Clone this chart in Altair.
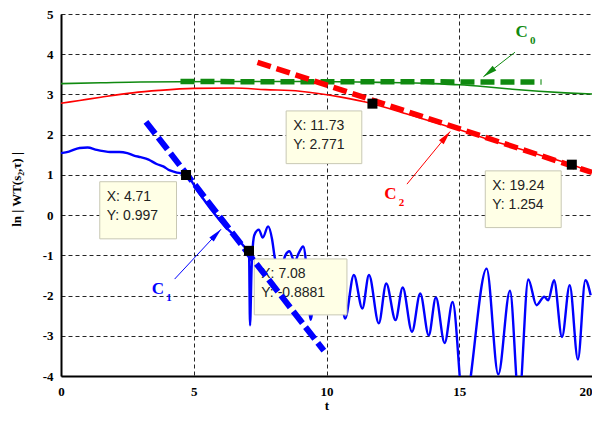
import math
import altair as alt
import pandas as pd

# ---------------- data ----------------
green_t = [0, 1.5, 3, 6, 9, 12, 14, 15, 16, 17, 18, 19, 20]
green_v = [3.27, 3.29, 3.31, 3.32, 3.32, 3.30, 3.27, 3.24, 3.19, 3.13, 3.08, 3.04, 3.01]

red_t = [0, 0.7, 1.5, 2.7, 3.7, 5.0, 6.5, 7.7, 9.0, 10.5, 11.73, 13, 14, 15, 16, 17, 18, 19.24, 20]
red_v = [2.78, 2.85, 2.93, 3.04, 3.10, 3.15, 3.16, 3.12, 3.08, 2.94, 2.771, 2.52, 2.32, 2.12, 1.90, 1.70, 1.50, 1.254, 1.07]

blue_t = [0.0, 0.3, 0.7, 1.0, 1.35, 1.6, 1.85, 2.2, 2.5, 2.75, 3.0, 3.3, 3.6, 3.85, 4.1, 4.3,
          4.71, 5.2, 5.7, 6.2, 6.6, 7.0, 7.08, 7.12, 7.18, 7.28, 7.45, 7.6, 7.8, 7.95, 8.05,
          8.25, 8.45, 8.6, 8.8, 8.95, 9.12, 9.25, 9.4, 9.6, 9.9, 10.2, 10.45, 10.7, 11.03,
          11.35, 11.6, 11.97, 12.25, 12.6, 12.87, 13.22, 13.53, 13.85, 14.12, 14.45, 14.75,
          15.17, 16.03, 16.47, 16.91, 17.25, 17.6, 17.91, 18.2, 18.35, 18.57, 18.87, 19.16,
          19.47, 19.75, 19.95]
blue_v = [1.54, 1.58, 1.67, 1.68, 1.62, 1.59, 1.57, 1.57, 1.54, 1.48, 1.44, 1.38, 1.27, 1.21, 1.11, 1.07,
          0.997, 0.55, 0.10, -0.30, -0.55, -0.85, -0.888, -2.74, -1.30, -0.50, -0.36, -0.56, -0.28, -0.60, -1.05,
          -1.40, -1.00, -0.90, -1.15, -0.95, -0.78, -1.30, -2.60, -1.60, -1.30, -1.90, -1.50, -2.57, -1.49,
          -2.32, -1.49, -2.69, -1.70, -2.61, -1.80, -2.90, -1.95, -2.99, -2.05, -3.18, -2.16,
          -4.80, -1.33, -3.96, -1.88, -4.60, -1.60, -2.24, -2.03, -2.12, -1.62, -3.03, -1.74,
          -3.59, -1.62, -1.99]

# fitted (dashed) lines: endpoints
c0_t = [4.5, 18.1]
c0_v = [3.32, 3.31]
c2_t = [7.4, 20.0]
c2_v = [3.80, 1.06]
c1_t = [3.2, 9.9]
c1_v = [2.32, -3.37]

# data tips
tip_t = [4.71, 7.08, 11.73, 19.24]
tip_v = [0.997, -0.8881, 2.771, 1.254]
tip_text = ["X: 4.71\nY: 0.997", "X: 7.08\nY: -0.8881", "X: 11.73\nY: 2.771", "X: 19.24\nY: 1.254"]
box_t1 = [1.46, 7.28, 8.48, 15.98]
box_t2 = [4.35, 10.77, 11.33, 18.84]
box_v1 = [0.83, -1.09, 2.59, 1.10]
box_v2 = [-0.59, -2.48, 1.28, -0.31]

# labels and arrows
lab_name = ["0", "2", "1"]
lab_color = ["#108a10", "#ff0000", "#0000ff"]
lab_t = [17.35, 12.41, 3.65]
lab_v = [4.55, 0.52, -1.84]
arr_t1 = [17.10, 13.03, 4.28]
arr_v1 = [4.05, 0.77, -1.59]
arr_t2 = [15.91, 14.66, 6.03]
arr_v2 = [3.44, 2.08, -0.35]

# ---------------- chart ----------------
W, H = 531, 362
XD, YD = [0, 20], [-4, 5]
SX = W / (XD[1] - XD[0])
SY = H / (YD[1] - YD[0])

xs = alt.Scale(domain=XD, nice=False, zero=False)
ys = alt.Scale(domain=YD, nice=False, zero=False)

xaxis = alt.Axis(values=[0, 5, 10, 15, 20], title="t", titleY=29, titleBaseline="middle",
                 labelPadding=9, labelExpr="datum.value",
                 labelAlign={"expr": "datum.value == 20 ? 'right' : 'center'"})
yaxis = alt.Axis(values=list(range(-4, 6)), title="ln | WT(s\u2082,\u03c4) |",
                 titleX=-45, titleY=175, titleAngle=-90, titleAlign="center",
                 titleBaseline="middle", labelPadding=8, labelExpr="datum.value")

X = lambda f="t": alt.X(f + ":Q", scale=xs, axis=xaxis)
Y = lambda f="v": alt.Y(f + ":Q", scale=ys, axis=yaxis)

green_df = pd.DataFrame({"t": green_t, "v": green_v})
red_df = pd.DataFrame({"t": red_t, "v": red_v})
blue_df = pd.DataFrame({"t": blue_t, "v": blue_v})
c0_df = pd.DataFrame({"t": c0_t, "v": c0_v})
c2_df = pd.DataFrame({"t": c2_t, "v": c2_v})
c1_df = pd.DataFrame({"t": c1_t, "v": c1_v})
tips_df = pd.DataFrame({"t": tip_t, "v": tip_v})
box_df = pd.DataFrame({"t": box_t1, "t2": box_t2, "v": box_v1, "v2": box_v2, "txt": tip_text})

# arrows: compute head placement (tip at end point)
heads = []
L = 14.0
for i in range(3):
    dx = (arr_t2[i] - arr_t1[i]) * SX
    dy = -(arr_v2[i] - arr_v1[i]) * SY
    n = math.hypot(dx, dy)
    ux, uy = dx / n, dy / n
    ang = math.degrees(math.atan2(dx, -dy)) % 360
    heads.append({"t": arr_t2[i] - (L / 2) * ux / SX,
                  "v": arr_v2[i] + (L / 2) * uy / SY,
                  "ang": ang, "c": lab_color[i]})
heads_df = pd.DataFrame(heads)
arr_df = pd.DataFrame({"t": arr_t1, "v": arr_v1, "t2": arr_t2, "v2": arr_v2, "c": lab_color})
lab_df = pd.DataFrame({"t": lab_t, "v": lab_v, "n": lab_name, "c": lab_color})

green_line = alt.Chart(green_df).mark_line(color="#108a10", strokeWidth=1.6, interpolate="monotone").encode(x=X(), y=Y())
red_line = alt.Chart(red_df).mark_line(color="#ff0000", strokeWidth=1.6, interpolate="monotone").encode(x=X(), y=Y())
blue_line = alt.Chart(blue_df).mark_line(color="#0000ff", strokeWidth=2.4, interpolate="monotone", clip=True).encode(x=X(), y=Y())

boxes = alt.Chart(box_df).mark_rect(fill="#ffffe6", stroke="#c8c8b4", strokeWidth=1).encode(
    x=X(), x2="t2:Q", y=Y(), y2="v2:Q")
box_text = alt.Chart(box_df).mark_text(align="left", baseline="top", dx=7, dy=8, fontSize=14,
                                       font="Liberation Sans", color="#222222", lineBreak="\n",
                                       lineHeight=19).encode(x=X(), y=Y(), text="txt:N")

c0_line = alt.Chart(c0_df).mark_line(color="#108a10", strokeWidth=5.5, strokeDash=[14, 6]).encode(x=X(), y=Y())
c2_line = alt.Chart(c2_df).mark_line(color="#ff0000", strokeWidth=5.5, strokeDash=[14, 6]).encode(x=X(), y=Y())
c1_line = alt.Chart(c1_df).mark_line(color="#0000ff", strokeWidth=6, strokeDash=[15, 5]).encode(x=X(), y=Y())

markers = alt.Chart(tips_df).mark_square(size=100, color="black", opacity=1).encode(x=X(), y=Y())

shafts = alt.Chart(arr_df).mark_rule(strokeWidth=1).encode(
    x=X(), y=Y(), x2="t2:Q", y2="v2:Q", color=alt.Color("c:N", scale=None))
arrow_heads = alt.Chart(heads_df).mark_point(
    shape="M0,-1L0.43,1L-0.43,1Z", size=L * L, filled=True, opacity=1).encode(
    x=X(), y=Y(), angle=alt.Angle("ang:Q", scale=None), color=alt.Color("c:N", scale=None))

lab_c = alt.Chart(lab_df).mark_text(text="C", fontSize=17, fontWeight="bold", font="Liberation Serif",
                                    baseline="middle", align="center").encode(
    x=X(), y=Y(), color=alt.Color("c:N", scale=None))
lab_sub = alt.Chart(lab_df).mark_text(fontSize=11, fontWeight="bold", font="Liberation Serif",
                                      baseline="middle", align="center", dx=11, dy=9).encode(
    x=X(), y=Y(), text="n:N", color=alt.Color("c:N", scale=None))

chart = alt.layer(
    green_line, red_line, blue_line, boxes, box_text, c0_line, c2_line, c1_line,
    markers, shafts, arrow_heads, lab_c, lab_sub
).properties(
    width=W, height=H,
    autosize=alt.AutoSizeParams(type="none"),
    padding={"left": 53, "top": 6, "right": 0, "bottom": 38},
    background="white",
).configure_view(stroke=None).configure_axis(
    grid=True, gridColor="#000000", gridDash=[4, 3], gridWidth=1, gridOpacity=0.85,
    domainColor="#000000", domainWidth=2, ticks=False,
    labelFont="Liberation Serif", labelFontWeight="bold", labelFontSize=13, labelColor="#000000",
    titleFont="Liberation Serif", titleFontWeight="bold", titleFontSize=13, titleColor="#000000",
)

chart.save("out.html", embed_options={"renderer": "svg", "actions": False})
